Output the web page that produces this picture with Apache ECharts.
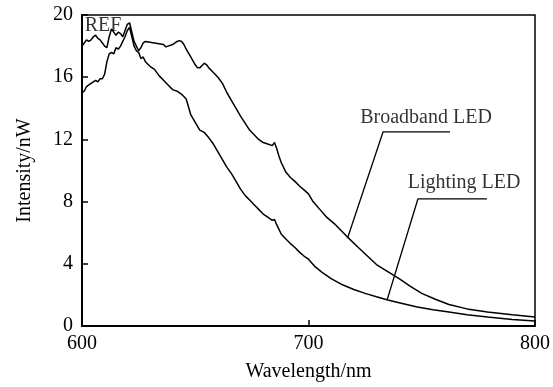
<!DOCTYPE html>
<html>
<head>
<meta charset="utf-8">
<script src="https://cdn.jsdelivr.net/npm/echarts@6/dist/echarts.min.js"></script>
<style>html,body{margin:0;padding:0;background:#fff;}#c{width:553px;height:387px;}</style>
</head>
<body>
<div id="c"></div>
<script>
// Lighting LED spectrum
const lightWl = [600,601,602,603,604,605,606,607,608,609,610,611,612,613,614,615,616,617,618,619,620,621,622,623,624,625,626,627,628,630,632,634,636,638,640,642,644,646,648,650,652,654,656,658,660,662,664,666,668,670,672,674,676,678,680,682,684,685,686,688,690,692,694,696,698,700,703,706,710,715,720,725,730,735,740,748,755,762,770,779,790,800];
const lightI = [15.0,15.1,15.4,15.5,15.6,15.7,15.8,15.7,15.9,15.9,16.2,17.0,17.5,17.6,17.5,17.9,17.8,18.0,18.3,18.6,19.0,19.2,18.6,18.0,17.7,17.6,17.2,17.3,17.0,16.7,16.5,16.1,15.8,15.5,15.2,15.1,14.9,14.6,13.6,13.1,12.6,12.45,12.1,11.7,11.2,10.7,10.2,9.8,9.3,8.8,8.4,8.1,7.8,7.5,7.2,7.0,6.8,6.85,6.5,5.9,5.6,5.3,5.05,4.75,4.5,4.3,3.8,3.45,3.05,2.65,2.35,2.1,1.88,1.67,1.5,1.22,1.05,0.9,0.72,0.58,0.42,0.32];
// Broadband LED spectrum
const broadWl = [600,601,602,603,604,605,606,607,608,609,610,611,612,613,614,615,616,617,618,619,620,621,622,623,624,625,626,627,628,630,632,634,636,637,638,640,642,643,644,645,646,648,650,651,652,653,654,655,656,658,660,662,664,666,668,670,672,674,676,678,680,682,684,685,686,687,688,690,692,694,696,698,700,702,705,708,712,717,722,726,730,735,740,745,750,756,762,770,779,790,800];
const broadI = [18.0,18.2,18.4,18.3,18.4,18.6,18.7,18.5,18.4,18.2,18.0,17.9,18.6,19.1,18.9,18.7,18.9,18.8,18.6,19.0,19.4,19.5,18.9,18.3,18.0,17.7,17.9,18.2,18.3,18.25,18.2,18.15,18.1,17.95,18.0,18.1,18.3,18.35,18.3,18.1,17.8,17.3,16.8,16.6,16.6,16.75,16.9,16.8,16.6,16.3,16.0,15.6,15.0,14.5,14.0,13.5,13.05,12.6,12.3,12.0,11.8,11.7,11.6,11.8,11.4,10.9,10.5,9.9,9.55,9.3,9.0,8.75,8.5,8.0,7.5,7.0,6.5,5.75,5.05,4.5,3.95,3.5,3.05,2.55,2.1,1.72,1.38,1.1,0.9,0.72,0.58];
// Axis ticks
const xTicks = [600, 700, 800];
const yTicks = [0, 4, 8, 12, 16, 20];
// Annotation leader lines (data coordinates)
const broadLeaderWl = [762.5, 732.9, 717.4];
const broadLeaderI = [12.48, 12.48, 5.72];
const lightLeaderWl = [778.8, 748.3, 734.7];
const lightLeaderI = [8.17, 8.17, 1.67];
// Annotation labels
const labelTexts = ['Broadband LED', 'Lighting LED', 'REF'];
const labelWl = [751.9, 768.7, 609.3];
const labelI = [13.38, 9.2, 19.32];

const zip = (a, b) => a.map((v, i) => [v, b[i]]);
const FONT = 'Liberation Serif';
const chart = echarts.init(document.getElementById('c'), null, {renderer: 'canvas'});
const lineStyle = {color: '#000', width: 1.5};
chart.setOption({
  animation: false,
  backgroundColor: '#fff',
  grid: {left: 82, right: 18, top: 15, bottom: 61, show: true, borderColor: '#000', borderWidth: 1.5, backgroundColor: 'transparent'},
  xAxis: {
    type: 'value', min: xTicks[0], max: xTicks[xTicks.length - 1], interval: 100,
    name: 'Wavelength/nm', nameLocation: 'middle', nameGap: 36,
    nameTextStyle: {fontFamily: FONT, fontSize: 20, color: '#000'},
    axisLine: {show: true, lineStyle: {color: '#000', width: 2}},
    axisTick: {show: true, inside: true, length: 6, lineStyle: {color: '#000', width: 1.5}},
    axisLabel: {fontFamily: FONT, fontSize: 20, color: '#000', margin: 8},
    splitLine: {show: false}
  },
  yAxis: {
    type: 'value', min: yTicks[0], max: yTicks[yTicks.length - 1], interval: 4,
    name: 'Intensity/nW', nameLocation: 'middle', nameGap: 47,
    nameTextStyle: {fontFamily: FONT, fontSize: 20, color: '#000'},
    axisLine: {show: true, lineStyle: {color: '#000', width: 2}},
    axisTick: {show: true, inside: true, length: 6, lineStyle: {color: '#000', width: 1.5}},
    axisLabel: {fontFamily: FONT, fontSize: 20, color: '#000', margin: 9},
    splitLine: {show: false}
  },
  series: [
    {name: 'Lighting LED', type: 'line', data: zip(lightWl, lightI), showSymbol: false, symbol: 'none', lineStyle: lineStyle, z: 3},
    {name: 'Broadband LED', type: 'line', data: zip(broadWl, broadI), showSymbol: false, symbol: 'none', lineStyle: lineStyle, z: 3},
    {type: 'line', data: zip(broadLeaderWl, broadLeaderI), symbol: 'none', lineStyle: {color: '#000', width: 1.3}, z: 4},
    {type: 'line', data: zip(lightLeaderWl, lightLeaderI), symbol: 'none', lineStyle: {color: '#000', width: 1.3}, z: 4},
    {type: 'scatter', symbolSize: 0, z: 5,
     data: labelTexts.map((t, i) => ({value: [labelWl[i], labelI[i]], name: t})),
     label: {show: true, position: 'inside', formatter: p => p.name, fontFamily: FONT, fontSize: 20, color: '#000'}}
  ]
});
</script>
</body>
</html>
